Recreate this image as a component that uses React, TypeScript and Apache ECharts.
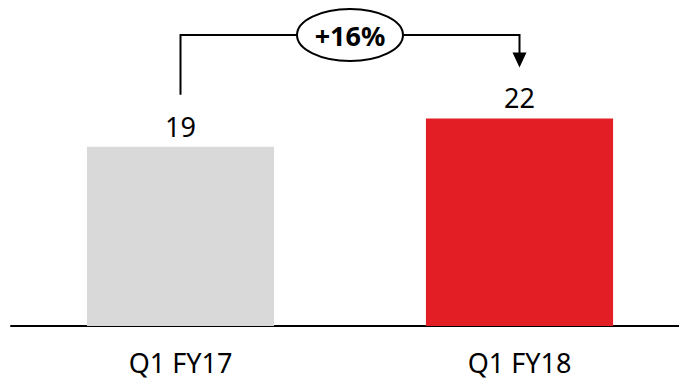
import React, { useEffect, useRef } from "react";
import * as echarts from "echarts";

const categories = ["Q1 FY17", "Q1 FY18"];
const values = [19, 22];
const barColors = ["#d9d9d9", "#e31e24"];

const FONT = "'Noto Sans', sans-serif";

export default function App() {
  const ref = useRef<HTMLDivElement>(null);

  useEffect(() => {
    if (!ref.current) return;
    const chart = echarts.init(ref.current, undefined, { renderer: "svg" });

    chart.setOption({
      animation: false,
      grid: { left: 11, right: 0, top: 43, bottom: 55, containLabel: false },
      xAxis: {
        type: "category",
        data: categories,
        axisLine: { show: true, lineStyle: { color: "#000", width: 2 } },
        axisTick: { show: false },
        axisLabel: { color: "#000", fontSize: 27, fontFamily: FONT, margin: 23 },
      },
      yAxis: {
        type: "value",
        min: 0,
        max: 30,
        show: false,
        splitLine: { show: false },
      },
      series: [
        {
          type: "bar",
          barWidth: "55.2%",
          data: values.map((v, i) => ({ value: v, itemStyle: { color: barColors[i] } })),
          label: {
            show: true,
            position: "top",
            distance: 7,
            color: "#000",
            fontSize: 27,
            fontFamily: FONT,
          },
        },
      ],
    });

    // Growth bracket between the two bars
    const p1 = chart.convertToPixel({ seriesIndex: 0 }, [0, values[0]]) as number[];
    const p2 = chart.convertToPixel({ seriesIndex: 0 }, [1, values[1]]) as number[];
    const growth = Math.round(((values[1] - values[0]) / values[0]) * 100);
    const topY = 35;
    const cx = (p1[0] + p2[0]) / 2;
    const rx = 53;
    const ry = 26;
    const tipY = p2[1] - 51;

    chart.setOption({
      graphic: [
        {
          type: "polyline",
          shape: { points: [[p1[0], p1[1] - 52], [p1[0], topY], [cx - rx, topY]] },
          style: { stroke: "#000", lineWidth: 2, fill: "none" },
        },
        {
          type: "polyline",
          shape: { points: [[cx + rx, topY], [p2[0], topY], [p2[0], tipY - 12]] },
          style: { stroke: "#000", lineWidth: 2, fill: "none" },
        },
        {
          type: "polygon",
          shape: { points: [[p2[0] - 7, tipY - 15], [p2[0] + 7, tipY - 15], [p2[0], tipY]] },
          style: { fill: "#000" },
        },
        {
          type: "ellipse",
          shape: { cx, cy: topY, rx, ry },
          style: { fill: "#fff", stroke: "#000", lineWidth: 2 },
        },
        {
          type: "text",
          x: cx,
          y: topY,
          style: {
            text: `+${growth}%`,
            fill: "#000",
            font: `bold 27px ${FONT}`,
            align: "center",
            verticalAlign: "middle",
          },
        },
      ],
    });

    return () => chart.dispose();
  }, []);

  return (
    <div style={{ position: "absolute", left: 0, top: 0, width: 679, height: 381, overflow: "hidden" }}>
      <div ref={ref} style={{ width: 689, height: 381 }} />
    </div>
  );
}
